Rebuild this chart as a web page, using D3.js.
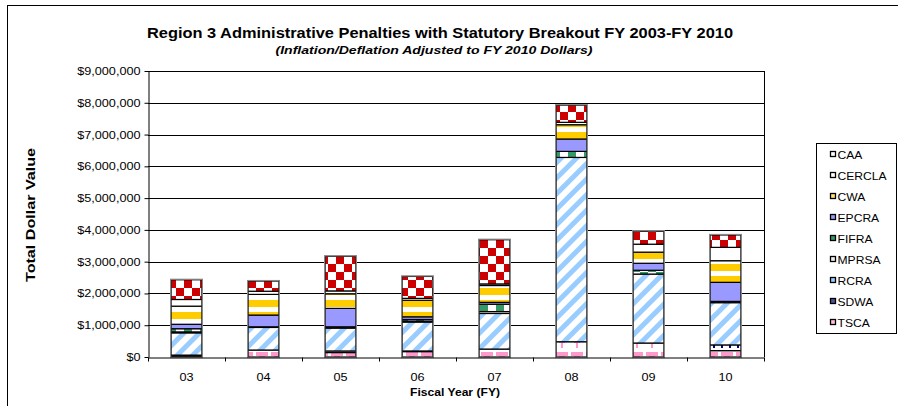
<!DOCTYPE html>
<html>
<head>
<meta charset="utf-8">
<script src="https://cdnjs.cloudflare.com/ajax/libs/d3/7.8.5/d3.min.js"></script>
<style>
  body { margin: 0; background: #fff; }
  svg { display: block; font-family: "Liberation Sans", Arial, sans-serif; }
</style>
</head>
<body>
<div id="chart"></div>
<script>
// fiscal years
var years = ['03', '04', '05', '06', '07', '08', '09', '10'];

// penalty amounts per statute, dollars (bottom of stack first)
var TSCA   = [40000, 220000, 140000, 170000, 250000, 480000, 440000, 200000];
var SDWA   = [20000, 0, 50000, 20000, 0, 0, 0, 180000];
var RCRA   = [700000, 710000, 720000, 910000, 1120000, 5800000, 2170000, 1330000];
var MPRSA  = [30000, 0, 0, 30000, 60000, 0, 0, 0];
var FIFRA  = [100000, 20000, 40000, 50000, 230000, 190000, 120000, 40000];
var EPCRA  = [140000, 370000, 580000, 85000, 60000, 390000, 220000, 600000];
var CWA    = [570000, 650000, 460000, 520000, 530000, 450000, 350000, 680000];
var CERCLA = [210000, 100000, 90000, 60000, 50000, 75000, 250000, 420000];
var CAA    = [620000, 320000, 1090000, 690000, 1390000, 540000, 410000, 390000];

var yTicks = [0, 1e6, 2e6, 3e6, 4e6, 5e6, 6e6, 7e6, 8e6, 9e6];

var seriesNames = ['TSCA', 'SDWA', 'RCRA', 'MPRSA', 'FIFRA', 'EPCRA', 'CWA', 'CERCLA', 'CAA'];
var seriesData = { TSCA: TSCA, SDWA: SDWA, RCRA: RCRA, MPRSA: MPRSA, FIFRA: FIFRA,
                   EPCRA: EPCRA, CWA: CWA, CERCLA: CERCLA, CAA: CAA };

var width = 898, height = 406;
var margin = { top: 71, right: 134, bottom: 49, left: 148 };

var svg = d3.select('#chart').append('svg')
  .attr('width', width).attr('height', height);

// the original is a bit wider than Arial, stretch text a little
function stretch(sel, k) {
  sel.each(function () {
    var w = this.getComputedTextLength();
    d3.select(this).attr('textLength', w * k).attr('lengthAdjust', 'spacingAndGlyphs');
  });
}

// ---- fill patterns (Excel style hatches)
var defs = svg.append('defs');

function pat(id, w, h, transform) {
  var p = defs.append('pattern').attr('id', id)
    .attr('patternUnits', 'userSpaceOnUse')
    .attr('width', w).attr('height', h);
  if (transform) p.attr('patternTransform', transform);
  p.append('rect').attr('width', w).attr('height', h).attr('fill', '#fff');
  return p;
}

var p = pat('caa', 16, 16);
p.append('rect').attr('x', 0).attr('y', 0).attr('width', 8).attr('height', 8).attr('fill', '#cc0000');
p.append('rect').attr('x', 8).attr('y', 8).attr('width', 8).attr('height', 8).attr('fill', '#cc0000');

p = pat('cwa', 4, 12);
p.append('rect').attr('x', 0).attr('y', 0).attr('width', 4).attr('height', 7).attr('fill', '#ffcc00');

p = pat('fifra', 16, 16);
p.append('rect').attr('x', 0).attr('y', 0).attr('width', 8).attr('height', 8).attr('fill', '#339966');
p.append('rect').attr('x', 8).attr('y', 8).attr('width', 8).attr('height', 8).attr('fill', '#339966');

p = pat('rcra', 11, 11, 'rotate(45)');
p.append('rect').attr('x', 0).attr('y', 0).attr('width', 5).attr('height', 11).attr('fill', '#99ccff');

p = pat('tsca', 15, 16);
p.append('path').attr('d', 'M1,0h12v4h-3v3h-2v5h-2v-5h-2v-3h-3z').attr('fill', '#ff99cc');

p = pat('sdwa', 8, 8);
p.append('rect').attr('x', 1).attr('y', 0).attr('width', 2).attr('height', 4).attr('fill', '#000080');

var fills = {
  TSCA: 'url(#tsca)', SDWA: 'url(#sdwa)', RCRA: 'url(#rcra)', MPRSA: '#f4f4f4',
  FIFRA: 'url(#fifra)', EPCRA: '#9999ff', CWA: 'url(#cwa)', CERCLA: '#ffffff', CAA: 'url(#caa)'
};
// small legend swatches read better as flat colours
var swatch = {
  TSCA: '#ffc0dd', SDWA: '#5050a0', RCRA: '#99ccff', MPRSA: '#eeeeee',
  FIFRA: '#339966', EPCRA: '#9999ff', CWA: '#ffe070', CERCLA: '#ffffff', CAA: '#ffffff'
};

// outer chart border
svg.append('rect').attr('x', 7.5).attr('y', 5.5).attr('width', 920).attr('height', 420)
  .attr('fill', 'none').attr('stroke', '#000').attr('stroke-width', 1);

// ---- scales
var x = d3.scaleBand().domain(years)
  .range([margin.left, width - margin.right]).paddingInner(0.6).paddingOuter(0.3);
var xTick = d3.scaleLinear().domain([0, years.length])
  .range([margin.left, width - margin.right]);
var y = d3.scaleLinear().domain([0, 9e6]).range([height - margin.bottom, margin.top]);

// gridlines
svg.append('g').selectAll('line').data(yTicks.slice(1)).enter().append('line')
  .attr('x1', margin.left).attr('x2', width - margin.right)
  .attr('y1', d => Math.round(y(d)) + 0.5).attr('y2', d => Math.round(y(d)) + 0.5)
  .attr('stroke', '#000').attr('stroke-width', 1);

// right border of plot area
svg.append('line')
  .attr('x1', width - margin.right + 0.5).attr('x2', width - margin.right + 0.5)
  .attr('y1', margin.top).attr('y2', height - margin.bottom)
  .attr('stroke', '#000');

// ---- stacked bars
var table = years.map((yr, i) => {
  var row = { year: yr };
  seriesNames.forEach(s => { row[s] = seriesData[s][i]; });
  return row;
});
var stacked = d3.stack().keys(seriesNames)(table);

var bars = svg.append('g');
stacked.forEach(layer => {
  bars.append('g').selectAll('rect').data(layer.filter(d => d[1] - d[0] > 0)).enter()
    .append('rect')
    .attr('x', d => x(d.data.year))
    .attr('y', d => y(d[1]))
    .attr('width', x.bandwidth())
    .attr('height', d => y(d[0]) - y(d[1]))
    .attr('fill', fills[layer.key])
    .attr('stroke', '#000').attr('stroke-width', 1.2);
});

// grey outline round each bar
svg.append('g').selectAll('rect').data(table).enter().append('rect')
  .attr('x', d => x(d.year) - 0.5)
  .attr('y', d => y(d3.sum(seriesNames, s => d[s])) - 0.5)
  .attr('width', x.bandwidth() + 1)
  .attr('height', d => y(0) - y(d3.sum(seriesNames, s => d[s])) + 1)
  .attr('fill', 'none').attr('stroke', '#888').attr('stroke-width', 1.2);

// ---- axes
var yAxis = d3.axisLeft(y).tickValues(yTicks).tickSize(4).tickSizeOuter(0)
  .tickFormat(d => '$' + d3.format(',')(d));
svg.append('g').attr('transform', `translate(${margin.left + 0.5},0)`)
  .call(yAxis)
  .call(g => g.selectAll('text').attr('font-size', '11px').attr('fill', '#000')
    .attr('font-family', '"Liberation Sans", Arial, sans-serif').attr('dx', '-1px'))
  .call(g => g.selectAll('line, path').attr('stroke', '#000'))
  .call(g => stretch(g.selectAll('text'), 1.15));

svg.append('g').attr('transform', `translate(0,${height - margin.bottom + 0.5})`)
  .call(d3.axisBottom(xTick).tickValues(d3.range(0, years.length + 1)).tickSize(4)
    .tickSizeOuter(0).tickFormat(''))
  .call(g => g.selectAll('line, path').attr('stroke', '#000'));

var xl = svg.append('g').selectAll('text').data(years).enter().append('text')
  .attr('x', d => x(d) + x.bandwidth() / 2)
  .attr('y', height - margin.bottom + 24)
  .attr('text-anchor', 'middle').attr('font-size', '11px')
  .text(d => d);
stretch(xl, 1.15);

// ---- titles
var t1 = svg.append('text').attr('x', 440).attr('y', 38)
  .attr('text-anchor', 'middle').attr('font-size', '14px').attr('font-weight', 'bold')
  .text('Region 3 Administrative Penalties with Statutory Breakout FY 2003-FY 2010');
t1.attr('textLength', 586).attr('lengthAdjust', 'spacingAndGlyphs');

var t2 = svg.append('text').attr('x', 434).attr('y', 54)
  .attr('text-anchor', 'middle').attr('font-size', '11px').attr('font-weight', 'bold')
  .attr('font-style', 'italic')
  .text('(Inflation/Deflation Adjusted to FY 2010 Dollars)');
t2.attr('textLength', 317).attr('lengthAdjust', 'spacingAndGlyphs');

svg.append('text')
  .attr('transform', 'translate(35,215) rotate(-90)')
  .attr('text-anchor', 'middle').attr('font-size', '13px').attr('font-weight', 'bold')
  .attr('textLength', 134).attr('lengthAdjust', 'spacingAndGlyphs')
  .text('Total Dollar Value');

svg.append('text').attr('x', 455).attr('y', 396)
  .attr('text-anchor', 'middle').attr('font-size', '11px').attr('font-weight', 'bold')
  .attr('textLength', 90).attr('lengthAdjust', 'spacingAndGlyphs')
  .text('Fiscal Year (FY)');

// ---- legend
var legend = svg.append('g').attr('transform', 'translate(816,143)');
legend.append('rect').attr('x', 0.5).attr('y', 0.5).attr('width', 80).attr('height', 190)
  .attr('fill', '#fff').attr('stroke', '#000');
var items = seriesNames.slice().reverse();
var li = legend.selectAll('g.item').data(items).enter().append('g')
  .attr('class', 'item')
  .attr('transform', (d, i) => `translate(0,${12 + i * 21})`);
li.append('rect').attr('x', 14.5).attr('y', -3.5).attr('width', 5).attr('height', 5)
  .attr('fill', d => swatch[d]).attr('stroke', '#000').attr('stroke-width', 1.3);
var lt = li.append('text').attr('x', 21.5).attr('y', 4).attr('font-size', '11px').text(d => d);
stretch(lt, 1.1);
</script>
</body>
</html>
